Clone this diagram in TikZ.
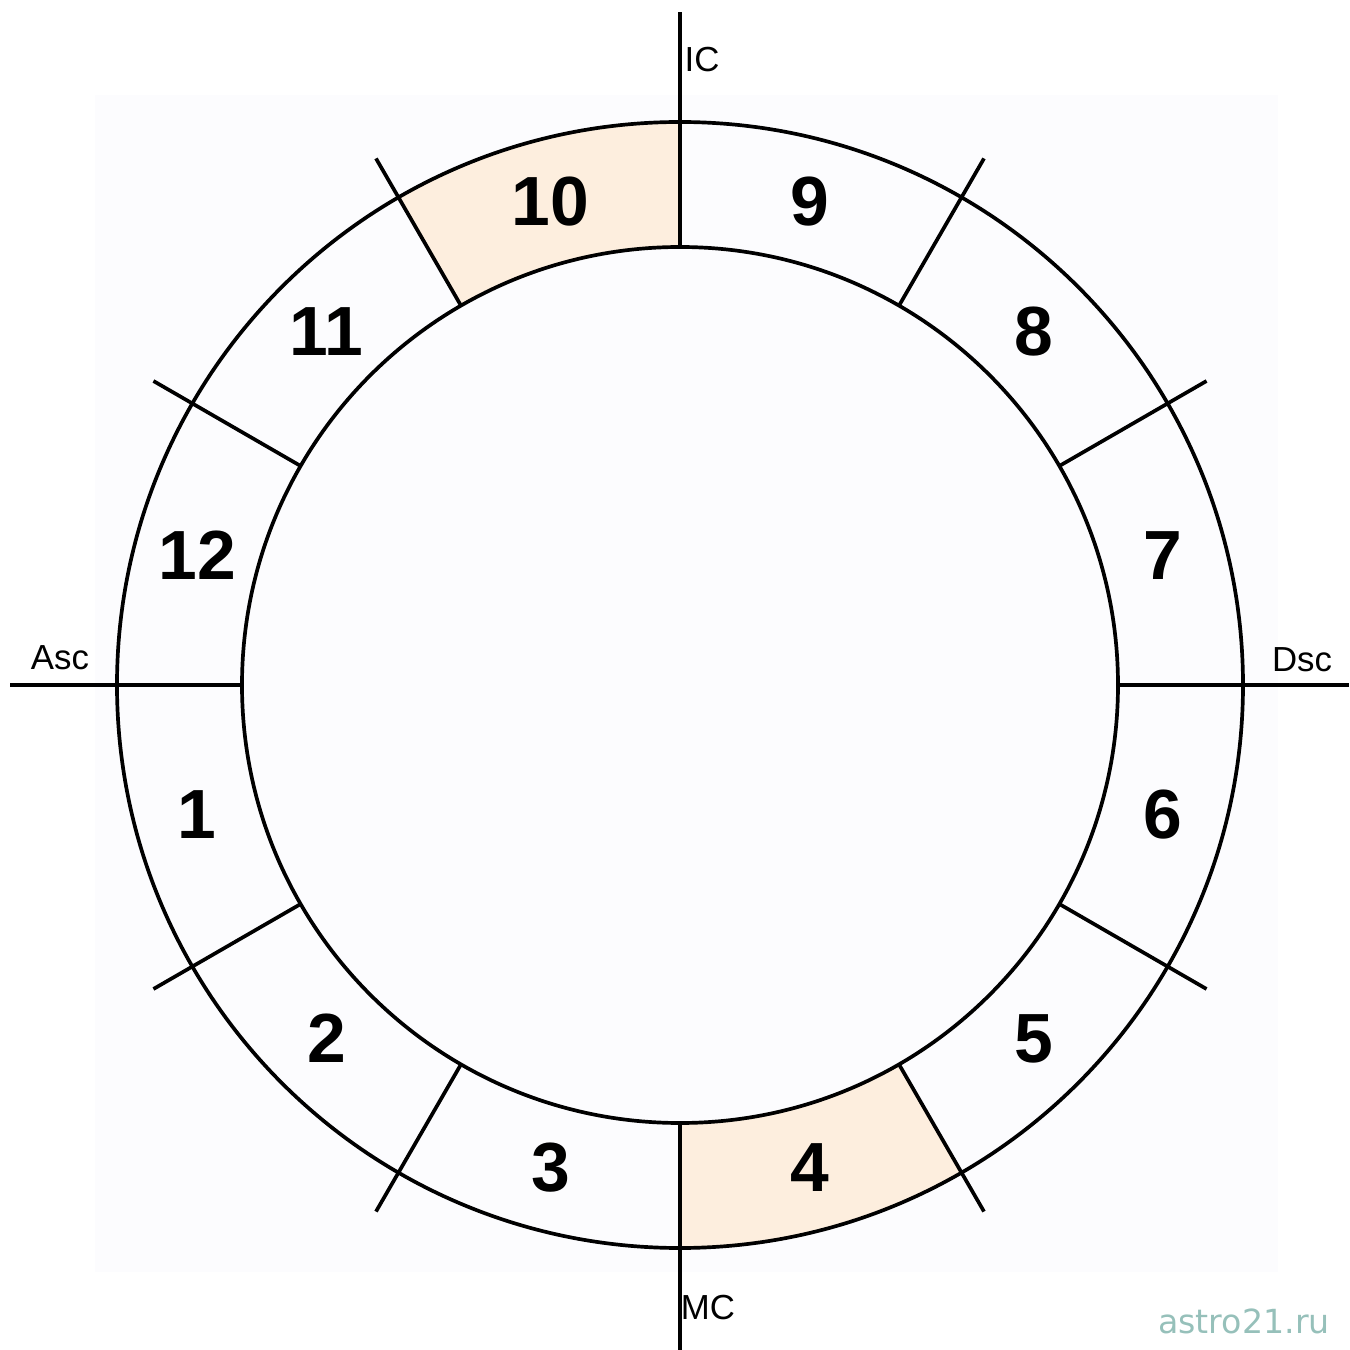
\documentclass[tikz,border=0pt]{standalone}
\usepackage{fontspec}
\usepackage{xcolor}
\usepackage{tikz}
\setmainfont{Liberation Sans}
\newfontfamily\sitefont{DejaVu Sans}
\definecolor{housefill}{RGB}{253,238,222}
\definecolor{paperfill}{RGB}{252,252,254}
\definecolor{sitegray}{RGB}{150,192,186}

\begin{document}
\begin{tikzpicture}[x=0.1mm, y=0.1mm,
    ring/.style={draw, line width=1.05pt},
    cusp/.style={draw, line width=1.05pt},
    housenum/.style={font=\fontsize{19.8}{20}\selectfont\bfseries, inner sep=0pt},
    axislabel/.style={font=\fontsize{9.9}{10}\selectfont, inner sep=0pt}
]
\useasboundingbox (-680,-665) rectangle (669,685);
\fill[paperfill] (-585,-587) rectangle (598,590);

% highlighted houses
\fill[housefill] (90:563) arc[start angle=90, end angle=120, radius=563]
    -- (120:438) arc[start angle=120, end angle=90, radius=438] -- cycle;
\fill[housefill] (270:563) arc[start angle=270, end angle=300, radius=563]
    -- (300:438) arc[start angle=300, end angle=270, radius=438] -- cycle;

\draw[ring] (0,0) circle[radius=563];
\draw[ring] (0,0) circle[radius=438];

% house cusps
\foreach \a in {30,60,120,150,210,240,300,330}
    \draw[cusp] (\a:438) -- (\a:608);

% axes
\draw[cusp] (180:438) -- (-670,0);
\draw[cusp] (0:438) -- (669,0);
\draw[cusp] (90:438) -- (0,673);
\draw[cusp] (270:438) -- (0,-665);

% house numbers
\foreach \n [evaluate=\n as \ang using {195+30*(\n-1)}] in {1,...,12}
    \node[housenum] (h\n) at (\ang:500) {\n};

\node[axislabel] (ic) at (22,625) {IC};
\node[axislabel] (asc) at (-620,27) {Asc};
\node[axislabel] (dsc) at (622,25) {Dsc};
\node[axislabel] (mc) at (28,-623) {MC};

\node[font=\sitefont\fontsize{9.45}{10}\selectfont, text=sitegray, inner sep=0pt] (site) at (564,-636) {astro21.ru};
\end{tikzpicture}
\end{document}
